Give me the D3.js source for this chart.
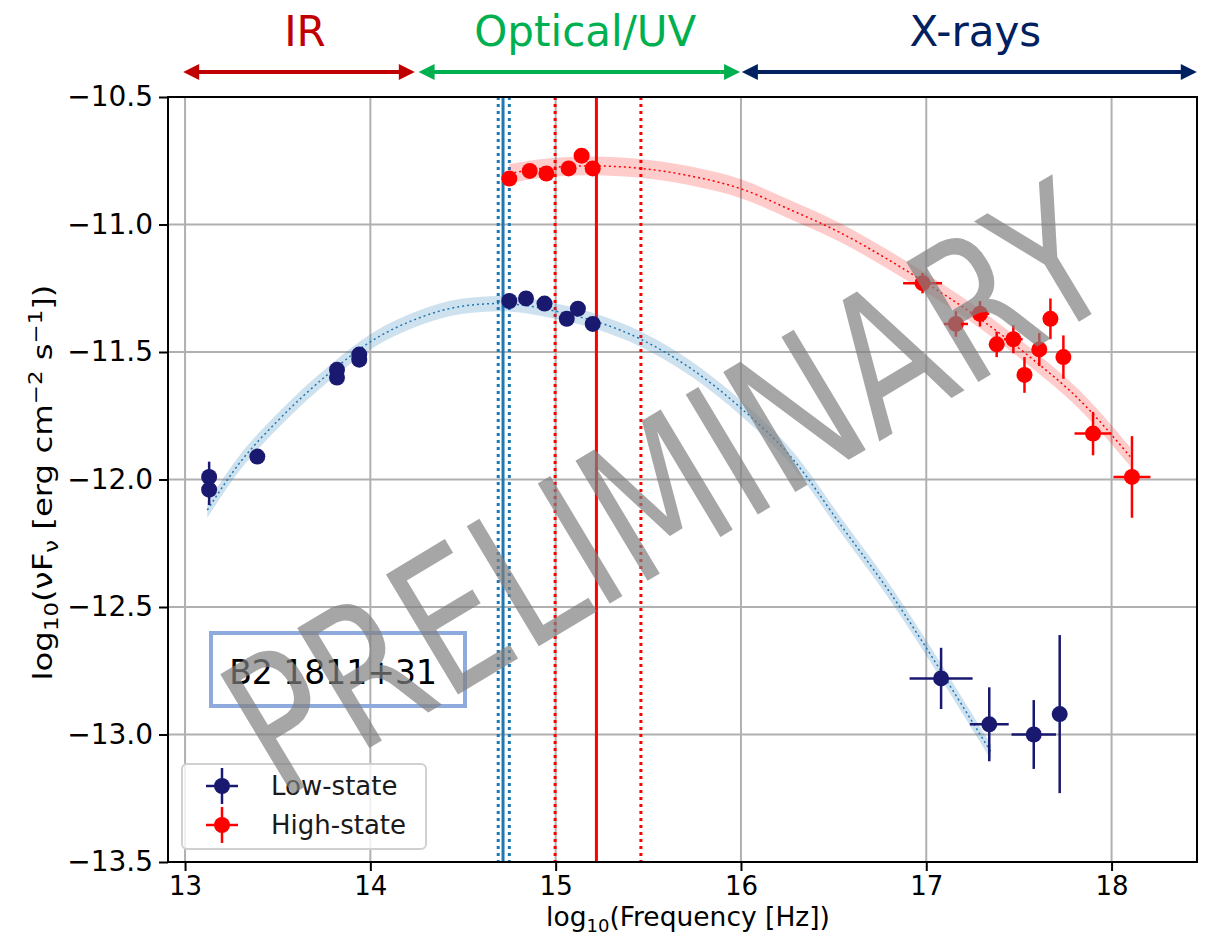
<!DOCTYPE html>
<html>
<head>
<meta charset="utf-8">
<script src="https://cdn.jsdelivr.net/npm/d3@7"></script>
<style>
  body { margin: 0; background: #fff; }
  svg { display: block; }
  text { font-family: "DejaVu Sans", sans-serif; }
</style>
</head>
<body>
<div id="chart"></div>
<script>
// --- data ---
const lowX = [13.13, 13.13, 13.39, 13.82, 13.82, 13.94, 13.94, 14.75, 14.84, 14.94, 15.06, 15.12, 15.20, 17.08, 17.34, 17.58, 17.72];
const lowY = [-11.99, -12.04, -11.91, -11.57, -11.60, -11.51, -11.53, -11.30, -11.29, -11.31, -11.37, -11.33, -11.39, -12.78, -12.96, -13.00, -12.92];
const lowXerr = [0, 0, 0, 0, 0, 0, 0, 0, 0, 0, 0, 0, 0, 0.17, 0.105, 0.12, 0];
const lowYerr = [0.06, 0.06, 0, 0, 0, 0, 0, 0, 0, 0, 0, 0, 0, 0.12, 0.145, 0.135, 0.31];

const highX = [14.75, 14.86, 14.95, 15.07, 15.14, 15.20, 16.98, 17.16, 17.29, 17.38, 17.47, 17.53, 17.61, 17.67, 17.74, 17.90, 18.11];
const highY = [-10.82, -10.79, -10.80, -10.78, -10.73, -10.78, -11.23, -11.39, -11.35, -11.47, -11.45, -11.59, -11.49, -11.37, -11.52, -11.82, -11.99];
const highXerr = [0, 0, 0, 0, 0, 0, 0.105, 0.065, 0.05, 0, 0.05, 0, 0, 0, 0, 0.10, 0.10];
const highYerr = [0, 0, 0, 0, 0, 0, 0.04, 0.05, 0.05, 0.05, 0.055, 0.07, 0.065, 0.08, 0.085, 0.085, 0.16];

// fitted model curves (centre of the shaded band)
const lowModelX = [13.12, 13.3, 13.5, 13.8, 14.0, 14.25, 14.5, 14.7, 15.0, 15.46, 15.74, 16.0, 16.28, 16.55, 16.82, 17.0, 17.18, 17.35];
const lowModelY = [-12.12, -11.93, -11.77, -11.57, -11.46, -11.37, -11.32, -11.31, -11.34, -11.45, -11.57, -11.72, -11.92, -12.19, -12.46, -12.66, -12.87, -13.07];
const highModelX = [14.75, 15.0, 15.19, 15.46, 15.73, 16.0, 16.26, 16.53, 16.8, 17.0, 17.29, 17.56, 17.83, 18.1];
const highModelY = [-10.80, -10.775, -10.77, -10.78, -10.81, -10.86, -10.94, -11.03, -11.14, -11.23, -11.37, -11.52, -11.69, -11.91];

// synchrotron peak markers
const lowPeak = [14.69, 14.716, 14.75];
const highPeak = [14.997, 15.22, 15.46];

const xTicks = [13, 14, 15, 16, 17, 18];
const yTicks = [-10.5, -11.0, -11.5, -12.0, -12.5, -13.0, -13.5];

const bandNames = ['IR', 'Optical/UV', 'X-rays'];
const bandFrom = [12.99, 14.26, 16.005];
const bandTo = [14.24, 15.995, 18.46];
const bandColors = ['#c00000', '#00b050', '#002060'];

const lowColor = '#191970';
const highColor = '#ff0000';

let width = 1207;
let height = 940;
let margin = { left: 168, top: 97, right: 10, bottom: 78 };
let innerW = width - margin.left - margin.right;
let innerH = height - margin.top - margin.bottom;

let svg = d3.select('#chart')
            .append('svg')
            .attr('width', width)
            .attr('height', height);

let x = d3.scaleLinear().domain([12.908, 18.461]).range([0, innerW]);
let y = d3.scaleLinear().domain([-13.5, -10.5]).range([innerH, 0]);

let g = svg.append('g').attr('transform', `translate(${margin.left},${margin.top})`);

// grid
g.append('g')
  .selectAll('line')
  .data(xTicks)
  .enter()
  .append('line')
  .attr('x1', d => x(d)).attr('x2', d => x(d))
  .attr('y1', 0).attr('y2', innerH)
  .attr('stroke', '#b0b0b0').attr('stroke-width', 2);
g.append('g')
  .selectAll('line')
  .data(yTicks)
  .enter()
  .append('line')
  .attr('y1', d => y(d)).attr('y2', d => y(d))
  .attr('x1', 0).attr('x2', innerW)
  .attr('stroke', '#b0b0b0').attr('stroke-width', 2);

// peak frequency lines
g.append('g')
  .selectAll('line')
  .data(lowPeak)
  .enter()
  .append('line')
  .attr('x1', d => x(d)).attr('x2', d => x(d))
  .attr('y1', 0).attr('y2', innerH)
  .attr('stroke', '#1f77b4').attr('stroke-width', 3)
  .attr('stroke-dasharray', (d, i) => i === 1 ? null : '3,4');
g.append('g')
  .selectAll('line')
  .data(highPeak)
  .enter()
  .append('line')
  .attr('x1', d => x(d)).attr('x2', d => x(d))
  .attr('y1', 0).attr('y2', innerH)
  .attr('stroke', '#ff0000').attr('stroke-width', 3)
  .attr('stroke-dasharray', (d, i) => i === 1 ? null : '3,4');

// model bands
function drawModel(xs, ys, halfW, fill, stroke) {
  let pts = xs.map((d, i) => [d, ys[i]]);
  let area = d3.area()
    .x(d => x(d[0]))
    .y0(d => y(d[1] - halfW))
    .y1(d => y(d[1] + halfW))
    .curve(d3.curveMonotoneX);
  let line = d3.line()
    .x(d => x(d[0]))
    .y(d => y(d[1]))
    .curve(d3.curveMonotoneX);
  g.append('path').attr('d', area(pts)).attr('fill', fill);
  g.append('path').attr('d', line(pts))
    .attr('fill', 'none').attr('stroke', stroke)
    .attr('stroke-width', 1.5).attr('stroke-dasharray', '2,3');
}
drawModel(lowModelX, lowModelY, 0.03, 'rgba(31,119,180,0.22)', '#1f77b4');
drawModel(highModelX, highModelY, 0.037, 'rgba(255,0,0,0.2)', '#ff0000');

// data points with error bars
function drawSeries(xs, ys, xe, ye, color) {
  let data = xs.map((d, i) => ({ x: d, y: ys[i], xe: xe[i], ye: ye[i] }));
  let s = g.append('g');
  s.selectAll('.xe')
    .data(data.filter(d => d.xe > 0))
    .enter()
    .append('line')
    .attr('x1', d => x(d.x - d.xe)).attr('x2', d => x(d.x + d.xe))
    .attr('y1', d => y(d.y)).attr('y2', d => y(d.y))
    .attr('stroke', color).attr('stroke-width', 2.5);
  s.selectAll('.ye')
    .data(data.filter(d => d.ye > 0))
    .enter()
    .append('line')
    .attr('x1', d => x(d.x)).attr('x2', d => x(d.x))
    .attr('y1', d => y(d.y - d.ye)).attr('y2', d => y(d.y + d.ye))
    .attr('stroke', color).attr('stroke-width', 2.5);
  s.selectAll('circle')
    .data(data)
    .enter()
    .append('circle')
    .attr('cx', d => x(d.x))
    .attr('cy', d => y(d.y))
    .attr('r', 8)
    .attr('fill', color);
}
drawSeries(lowX, lowY, lowXerr, lowYerr, lowColor);
drawSeries(highX, highY, highXerr, highYerr, highColor);

// frame
g.append('rect')
  .attr('width', innerW).attr('height', innerH)
  .attr('fill', 'none').attr('stroke', '#000').attr('stroke-width', 2);

// axes
let xAxis = g.append('g')
  .attr('transform', `translate(0,${innerH})`)
  .call(d3.axisBottom(x).tickValues(xTicks).tickFormat(d3.format('d')).tickSize(9).tickPadding(6));
let yAxis = g.append('g')
  .call(d3.axisLeft(y).tickValues(yTicks).tickFormat(d => d3.format('.1f')(d).replace('-', '\u2212')).tickSize(9).tickPadding(6));
[xAxis, yAxis].forEach(a => {
  a.select('.domain').remove();
  a.selectAll('.tick line').attr('stroke', '#000').attr('stroke-width', 2);
  a.selectAll('text').attr('font-family', 'DejaVu Sans').attr('fill', '#000');
});
xAxis.selectAll('text').attr('font-size', 26);
yAxis.selectAll('text').attr('font-size', 28);

// axis titles
let xt = svg.append('text')
  .attr('x', 688)
  .attr('y', 926)
  .attr('text-anchor', 'middle')
  .attr('font-size', 26.5);
xt.append('tspan').text('log');
xt.append('tspan').attr('font-size', 18).attr('dy', 6).text('10');
xt.append('tspan').attr('dy', -6).text('(Frequency [Hz])');

let yt = svg.append('text')
  .attr('transform', `translate(52,${margin.top + innerH / 2 + 3}) rotate(-90) scale(1.2,1)`)
  .attr('text-anchor', 'middle')
  .attr('font-size', 27);
yt.append('tspan').text('log');
yt.append('tspan').attr('font-size', 19).attr('dy', 6).text('10');
yt.append('tspan').attr('dy', -6).text('(\u03bdF');
yt.append('tspan').attr('font-size', 19).attr('dy', 6).text('\u03bd');
yt.append('tspan').attr('dy', -6).text(' [erg cm');
yt.append('tspan').attr('font-size', 19).attr('dy', -10).text('\u22122');
yt.append('tspan').attr('dy', 10).text(' s');
yt.append('tspan').attr('font-size', 19).attr('dy', -10).text('\u22121');
yt.append('tspan').attr('dy', 10).text('])');

// legend
let leg = g.append('g').attr('transform', `translate(14,${innerH - 98})`);
leg.append('rect')
  .attr('width', 244).attr('height', 85)
  .attr('rx', 5)
  .attr('fill', 'rgba(255,255,255,0.8)')
  .attr('stroke', '#d0d0d0').attr('stroke-width', 2);
[['Low-state', lowColor], ['High-state', highColor]].forEach((d, i) => {
  let cy = 22 + i * 39;
  leg.append('line').attr('x1', 24).attr('x2', 56).attr('y1', cy).attr('y2', cy)
    .attr('stroke', d[1]).attr('stroke-width', 2.5);
  leg.append('line').attr('x1', 40).attr('x2', 40).attr('y1', cy - 18).attr('y2', cy + 18)
    .attr('stroke', d[1]).attr('stroke-width', 2.5);
  leg.append('circle').attr('cx', 40).attr('cy', cy).attr('r', 8).attr('fill', d[1]);
  leg.append('text').attr('x', 89).attr('y', cy + 9)
    .attr('font-size', 26).attr('fill', '#1a1a1a').text(d[0]);
});

// source label box
svg.append('rect')
  .attr('x', 211).attr('y', 633)
  .attr('width', 254).attr('height', 73)
  .attr('fill', 'none')
  .attr('stroke', '#8faadc').attr('stroke-width', 4);
svg.append('text')
  .attr('x', 333).attr('y', 684)
  .attr('text-anchor', 'middle')
  .attr('font-family', 'Lato, "Open Sans", sans-serif')
  .attr('font-size', 33)
  .attr('fill', '#000')
  .text('B2 1811+31');

// energy range arrows
let arrowY = 72;
bandNames.forEach((name, i) => {
  let x0 = margin.left + x(bandFrom[i]);
  let x1 = margin.left + x(bandTo[i]);
  let c = bandColors[i];
  svg.append('line')
    .attr('x1', x0 + 10).attr('x2', x1 - 10)
    .attr('y1', arrowY).attr('y2', arrowY)
    .attr('stroke', c).attr('stroke-width', 4);
  svg.append('path')
    .attr('d', `M${x0},${arrowY} L${x0 + 16},${arrowY - 8} L${x0 + 16},${arrowY + 8} Z`)
    .attr('fill', c);
  svg.append('path')
    .attr('d', `M${x1},${arrowY} L${x1 - 16},${arrowY - 8} L${x1 - 16},${arrowY + 8} Z`)
    .attr('fill', c);
  svg.append('text')
    .attr('x', (x0 + x1) / 2 + 6)
    .attr('y', 46)
    .attr('text-anchor', 'middle')
    .attr('font-family', 'Lato, "Open Sans", sans-serif')
    .attr('font-size', 42)
    .attr('fill', c)
    .text(name);
});

// watermark
svg.append('text')
  .attr('transform', 'translate(702,548) rotate(-31)')
  .attr('text-anchor', 'middle')
  .attr('font-family', '"Open Sans", Lato, sans-serif')
  .attr('font-size', 192)
  .attr('textLength', 985)
  .attr('lengthAdjust', 'spacingAndGlyphs')
  .attr('fill', 'rgba(128,128,128,0.7)')
  .text('PRELIMINARY');
</script>
</body>
</html>
